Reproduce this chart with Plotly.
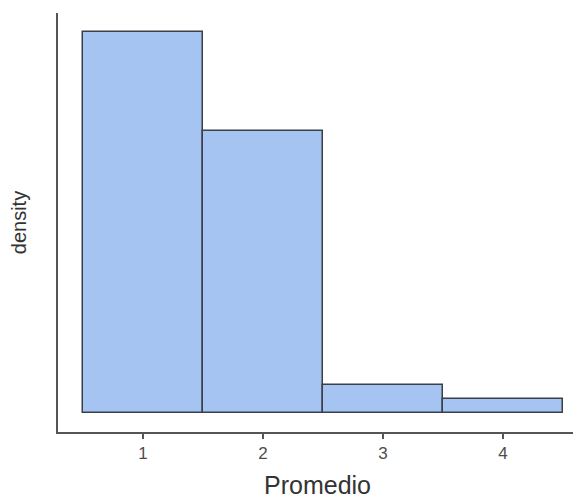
import plotly.graph_objects as go

bin_centers = [1, 2, 3, 4]
density = [0.54, 0.40, 0.04, 0.02]
tick_vals = [1, 2, 3, 4]
tick_text = ["1", "2", "3", "4"]

fig = go.Figure(go.Bar(
    x=bin_centers, y=density, width=1,
    marker=dict(color="#a5c4f1", line=dict(color="#3b3f47", width=1.5)),
))

fig.update_layout(
    width=573, height=491,
    margin=dict(l=50, r=4, t=5, b=61),
    paper_bgcolor="white", plot_bgcolor="white",
    font=dict(family="Liberation Sans, Arial, sans-serif", color="#4d4d4d"),
    showlegend=False,
    bargap=0,
)
fig.update_xaxes(
    range=[0.292, 4.617], tickvals=tick_vals, ticktext=tick_text,
    showgrid=False, zeroline=False,
    showline=True, linecolor="#555555", linewidth=1.5,
    ticks="outside", ticklen=5, tickwidth=1.5, tickcolor="#555555",
    tickfont=dict(size=17, color="#4d4d4d"),
    title=dict(text="Promedio", font=dict(size=25, color="#333333"), standoff=14),
)
fig.update_yaxes(
    range=[-0.0271, 0.567],
    showticklabels=False, ticks="",
    showgrid=False, zeroline=False,
    showline=True, linecolor="#555555", linewidth=1.5,
    title=dict(text="density", font=dict(size=20, color="#333333"), standoff=25),
)

fig.write_html("out.html")
